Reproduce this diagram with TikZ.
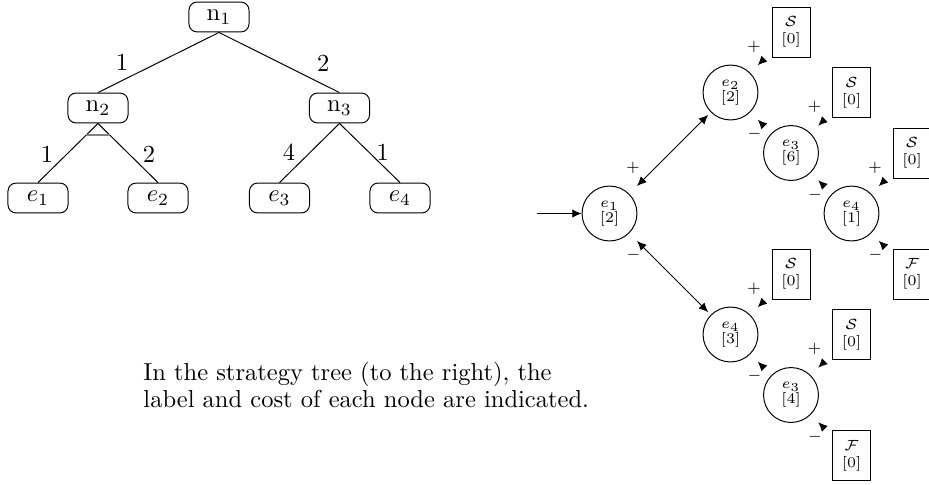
\documentclass[tikz,border=0pt]{standalone}
\usetikzlibrary{arrows.meta,decorations.markings}
\begin{document}
\begin{tikzpicture}[x=0.408pt,y=-0.408pt,
  >={Latex[length=3.8pt,width=3.4pt]},
  tnode/.style={draw, rounded corners=3.3pt, minimum width=24.5pt, minimum height=12.2pt, inner sep=0pt},
  snode/.style={draw, circle, minimum size=22.4pt, inner sep=0pt, align=center, font=\fontsize{6}{6.2}\selectfont},
  leaf/.style={draw, rectangle, minimum width=15.5pt, minimum height=20.4pt, inner sep=0pt, align=center, font=\fontsize{6}{7}\selectfont},
  wlab/.style={inner sep=0pt},
  mk/.style={postaction={decorate}, decoration={markings, mark=at position 4.3pt with {\arrowreversed{Latex[length=3.8pt,width=3.4pt]}}}},
  pl/.style={at start, inner sep=0pt, font=\fontsize{6}{7}\selectfont, xshift=1.5pt, yshift=10.6pt},
  mi/.style={at start, inner sep=0pt, font=\fontsize{6}{7}\selectfont, xshift=1.7pt, yshift=-8.8pt},
  andbar/.style={draw=gray, line width=0.8pt}
]
\useasboundingbox (0,0) rectangle (929,484);
% ---------- left tree ----------
\node[tnode] (n1) at (219,17) {$\mathrm{n}_1$};
\node[tnode] (n2) at (98,108) {$\mathrm{n}_2$};
\node[tnode] (n3) at (339.5,108) {$\mathrm{n}_3$};
\node[tnode] (l1) at (38,198) {$e_1$};
\node[tnode] (l2) at (158,198) {$e_2$};
\node[tnode] (l3) at (279.5,198) {$e_3$};
\node[tnode] (l4) at (400,198) {$e_4$};
\draw (n1.south) -- (n2.north) node[wlab, pos=0.5, xshift=-14.9pt] {1};
\draw (n1.south) -- (n3.north) node[wlab, pos=0.5, xshift=18pt, yshift=-0.4pt] {2};
\draw (n2.south) -- (l1.north) node[wlab, pos=0.5, xshift=-8.6pt, yshift=-0.6pt] {1} coordinate[pos=0.2] (a1);
\draw (n2.south) -- (l2.north) node[wlab, pos=0.5, xshift=8.6pt, yshift=-0.6pt] {2} coordinate[pos=0.2] (a2);
\draw[andbar] (a1) -- (a2);
\draw (n3.south) -- (l3.north) node[wlab, pos=0.5, xshift=-8.4pt, yshift=0.4pt] {4};
\draw (n3.south) -- (l4.north) node[wlab, pos=0.5, xshift=5.3pt, yshift=0.4pt] {1};
% ---------- text ----------
\node[anchor=north west, align=left, inner sep=0pt, font=\fontsize{10}{10.8}\selectfont] (txt) at (143,362)
  {In the strategy tree (to the right), the\\label and cost of each node are indicated.};
% ---------- strategy tree ----------
\node[snode] (s1) at (609.5,213.5) {$e_1$\\{}[2]};
\node[snode] (s2) at (730.5,92.5) {$e_2$\\{}[2]};
\node[snode] (s3) at (791,153) {$e_3$\\{}[6]};
\node[snode] (s4) at (851.5,213.5) {$e_4$\\{}[1]};
\node[snode] (s5) at (730.5,334.5) {$e_4$\\{}[3]};
\node[snode] (s6) at (791,395) {$e_3$\\{}[4]};
\node[leaf] (b1) at (791,32) {$\mathcal{S}$\\{}[0]};
\node[leaf] (b2) at (851.5,92.5) {$\mathcal{S}$\\{}[0]};
\node[leaf] (b3) at (912,153) {$\mathcal{S}$\\{}[0]};
\node[leaf] (b4) at (912,274) {$\mathcal{F}$\\{}[0]};
\node[leaf] (b5) at (791,274) {$\mathcal{S}$\\{}[0]};
\node[leaf] (b6) at (851.5,334.5) {$\mathcal{S}$\\{}[0]};
\node[leaf] (b7) at (851.5,455.5) {$\mathcal{F}$\\{}[0]};
\coordinate (in) at (537,213.5);
\draw[->] (in) -- (s1);
\draw[<->, shorten <=4.5pt, shorten >=1.5pt] (s1) -- (s2) node[pl] {$+$};
\draw[<->, shorten <=4.5pt, shorten >=1.5pt] (s1) -- (s5) node[mi] {$-$};
\path[mk] (s2) -- (b1) node[pl] {$+$};
\path[mk] (s2) -- (s3) node[mi] {$-$};
\path[mk] (s3) -- (b2) node[pl] {$+$};
\path[mk] (s3) -- (s4) node[mi] {$-$};
\path[mk] (s4) -- (b3) node[pl] {$+$};
\path[mk] (s4) -- (b4) node[mi] {$-$};
\path[mk] (s5) -- (b5) node[pl] {$+$};
\path[mk] (s5) -- (s6) node[mi] {$-$};
\path[mk] (s6) -- (b6) node[pl] {$+$};
\path[mk] (s6) -- (b7) node[mi] {$-$};
\end{tikzpicture}
\end{document}
